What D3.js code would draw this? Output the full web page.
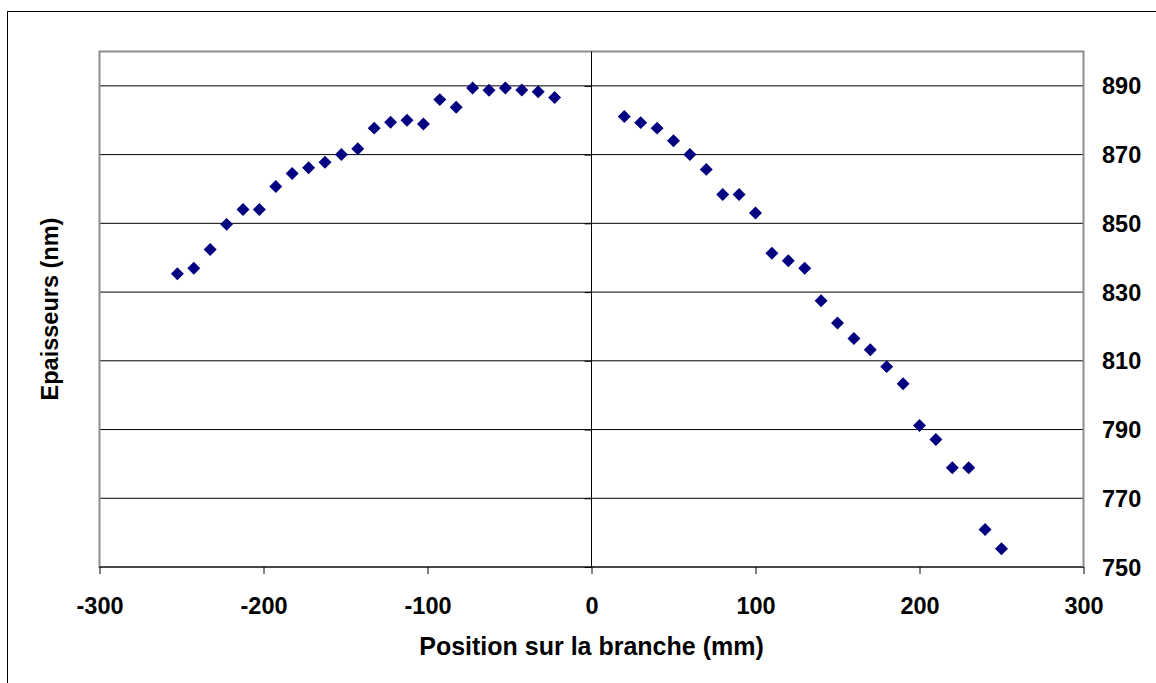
<!DOCTYPE html>
<html>
<head>
<meta charset="utf-8">
<script src="https://cdn.jsdelivr.net/npm/d3@7"></script>
<style>
  html, body { margin: 0; padding: 0; background: #fff; }
  svg { display: block; }
  text { font-family: "Liberation Sans", Arial, sans-serif; font-weight: bold; fill: #000; }
</style>
</head>
<body>
<svg id="chart" width="1156" height="683"></svg>
<script>
// Thickness measured along the branch (left and right of the centre)
const leftPositions = [-252.5, -242.5, -232.5, -222.5, -212.5, -202.5, -192.5, -182.5,
  -172.5, -162.5, -152.5, -142.5, -132.5, -122.5, -112.5, -102.5, -92.5, -82.5,
  -72.5, -62.5, -52.5, -42.5, -32.5, -22.5];
const leftThickness = [835.3, 836.9, 842.4, 849.7, 854.0, 854.0, 860.7, 864.5,
  866.2, 867.8, 870.0, 871.7, 877.7, 879.4, 880.0, 878.9, 886.0, 883.8,
  889.4, 888.7, 889.4, 888.8, 888.3, 886.6];
const rightPositions = [20, 30, 40, 50, 60, 70, 80, 90, 100, 110, 120, 130,
  140, 150, 160, 170, 180, 190, 200, 210, 220, 230, 240, 250];
const rightThickness = [881.1, 879.3, 877.7, 874.0, 870.0, 865.7, 858.4, 858.4,
  853.0, 841.3, 839.1, 836.9, 827.5, 821.0, 816.5, 813.2, 808.3, 803.3,
  791.2, 787.1, 778.9, 778.9, 760.9, 755.3];

const xTicks = [-300, -200, -100, 0, 100, 200, 300];
const yTicks = [750, 770, 790, 810, 830, 850, 870, 890];
const xDomain = [-300, 300];
const yDomain = [750, 900];

const xTitle = "Position sur la branche (mm)";
const yTitle = "Epaisseurs (nm)";

const points = leftPositions.map((p, i) => ({ x: p, y: leftThickness[i] }))
  .concat(rightPositions.map((p, i) => ({ x: p, y: rightThickness[i] })));

const svg = d3.select("#chart");
const plot = { left: 99.5, right: 1083.5, top: 51.5, bottom: 567 };

const x = d3.scaleLinear().domain(xDomain).range([plot.left, plot.right]);
const y = d3.scaleLinear().domain(yDomain).range([plot.bottom, plot.top]);

// outer chart frame (left and top edges visible)
svg.append("rect")
  .attr("x", 7.5).attr("y", 11.5)
  .attr("width", 1200).attr("height", 700)
  .attr("fill", "none").attr("stroke", "#000").attr("stroke-width", 1);

// horizontal gridlines
svg.append("g").selectAll("line")
  .data(yTicks.filter(v => v > yDomain[0]))
  .join("line")
  .attr("x1", plot.left).attr("x2", plot.right)
  .attr("y1", d => y(d)).attr("y2", d => y(d))
  .attr("stroke", "#000").attr("stroke-width", 1);

// plot area border
svg.append("rect")
  .attr("x", plot.left).attr("y", plot.top)
  .attr("width", plot.right - plot.left).attr("height", plot.bottom - plot.top)
  .attr("fill", "none").attr("stroke", "#8e8e8e").attr("stroke-width", 2);

// x axis along the bottom
const xAxis = d3.axisBottom(x).tickValues(xTicks).tickSize(7).tickPadding(23)
  .tickFormat(d => String(d));
const gx = svg.append("g").attr("transform", `translate(0,${plot.bottom})`).call(xAxis);
gx.select(".domain").attr("stroke", "#000").attr("stroke-width", 1)
  .attr("d", `M${plot.left},0H${plot.right}`);
gx.selectAll(".tick line").attr("stroke", "#000");
gx.selectAll(".tick text")
  .attr("font-size", 23.5).attr("font-family", "Liberation Sans, Arial, sans-serif")
  .attr("font-weight", "bold").attr("fill", "#000");

// y axis crossing at position 0, labels placed beyond the right edge
const gy = svg.append("g").attr("transform", `translate(${x(0)},0)`)
  .call(d3.axisLeft(y).tickValues(yTicks).tickSize(7).tickFormat(() => ""));
gy.select(".domain").attr("stroke", "#000").attr("stroke-width", 1)
  .attr("d", `M0,${plot.top}V${plot.bottom}`);
gy.selectAll(".tick line").attr("stroke", "#000");

svg.append("g").selectAll("text")
  .data(yTicks)
  .join("text")
  .attr("x", 1102)
  .attr("y", d => y(d) + 8.5)
  .attr("font-size", 23.5)
  .text(d => d);

// data markers: navy diamonds
const diamond = d3.symbol().type(d3.symbolSquare).size(84);
svg.append("g").selectAll("path")
  .data(points)
  .join("path")
  .attr("d", diamond)
  .attr("transform", d => `translate(${x(d.x)},${y(d.y)}) rotate(45)`)
  .attr("fill", "#000080");

// axis titles
svg.append("text")
  .attr("x", x(0)).attr("y", 655)
  .attr("text-anchor", "middle").attr("font-size", 25)
  .text(xTitle);

svg.append("text")
  .attr("transform", `translate(58,309) rotate(-90)`)
  .attr("text-anchor", "middle").attr("font-size", 23.5)
  .text(yTitle);
</script>
</body>
</html>
